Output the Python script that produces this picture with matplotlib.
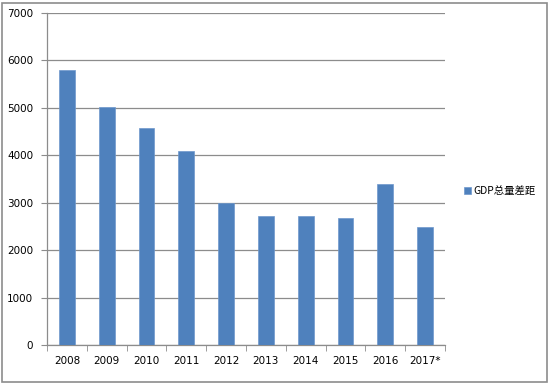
import matplotlib
matplotlib.use("Agg")
import matplotlib.pyplot as plt
import numpy as np
from matplotlib.patches import Rectangle

plt.rcParams['font.family'] = ['DejaVu Sans', 'Noto Sans CJK SC']

years = ["2008", "2009", "2010", "2011", "2012", "2013", "2014", "2015", "2016", "2017*"]
gdp_gap = [5800, 5020, 4575, 4080, 2990, 2720, 2715, 2680, 3400, 2480]
series_name = "GDP总量差距"
y_ticks = [0, 1000, 2000, 3000, 4000, 5000, 6000, 7000]

fig = plt.figure(figsize=(5.5, 3.84), dpi=100)
ax = fig.add_axes([47/550, 1 - 345/384, (445-47)/550, (345-13)/384])

x = np.arange(len(years))
ax.bar(x, gdp_gap, width=0.4, color="#4F81BD", edgecolor="#6E98CC", linewidth=0.5, zorder=3,
       label=series_name)

ax.set_xlim(-0.5, len(years) - 0.5)
ax.set_ylim(0, 7000)
ax.set_yticks(y_ticks)
ax.set_yticklabels([str(v) for v in y_ticks])
ax.yaxis.grid(True, color="#8C8C8C", linewidth=0.9, zorder=0)
ax.set_axisbelow(True)

ax.set_xticks(x)
ax.set_xticklabels(years)
ax.set_xticks(np.arange(-0.5, len(years)), minor=True)
ax.tick_params(axis='x', which='major', length=0, pad=8, labelsize=7.5)
ax.tick_params(axis='x', which='minor', length=4, color="#8C8C8C", direction='out')
ax.tick_params(axis='y', length=4, color="#8C8C8C", direction='out', labelsize=7.5, pad=6)

for s in ['top', 'right']:
    ax.spines[s].set_visible(False)
for s in ['left', 'bottom']:
    ax.spines[s].set_color("#8C8C8C")
    ax.spines[s].set_linewidth(0.9)

leg = fig.legend(loc='center left', bbox_to_anchor=(455/550, 1 - 191/384), frameon=False,
                 handlelength=0.6, handleheight=0.6, handletextpad=0.3,
                 prop={'family': ['Noto Sans CJK SC', 'DejaVu Sans'], 'size': 7.5})

fig.patches.append(Rectangle((2/550, 2/384), 545/550, 379/384, transform=fig.transFigure,
                             fill=False, edgecolor="#8C8C8C", linewidth=1.2))

fig.savefig("out.png", dpi=100)
